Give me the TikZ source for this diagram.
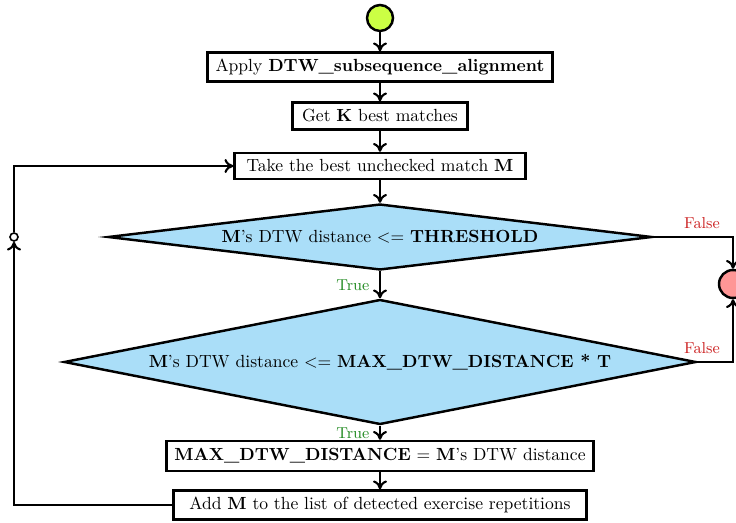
\documentclass[tikz,border=0pt]{standalone}
\usetikzlibrary{shapes.geometric,arrows.meta}
\definecolor{startc}{RGB}{204,255,68}
\definecolor{endc}{RGB}{255,150,150}
\definecolor{decc}{RGB}{170,222,248}
\definecolor{falsec}{RGB}{204,34,34}
\definecolor{truec}{RGB}{34,139,34}
\begin{document}
\begin{tikzpicture}[x=0.02cm,y=-0.02cm,
  box/.style={draw,line width=1.4pt,fill=white,inner sep=0pt},
  dec/.style={draw,line width=1.4pt,fill=decc,shape=diamond,inner sep=0pt},
  arr/.style={line width=1.4pt,-{To[length=5pt,width=8pt,line width=1.2pt]}},
  flab/.style={text=falsec,font=\small},
  tlab/.style={text=truec,font=\small}]
\clip (0,0) rectangle (736,523);
\node[circle,draw,line width=1.4pt,fill=startc,minimum size=26*0.02cm,inner sep=0pt] (start) at (380,18) {};
\node[box,minimum width=345*0.02cm,minimum height=29*0.02cm] (b1) at (380,67) {Apply \textbf{DTW\_subsequence\_alignment}};
\node[box,minimum width=175*0.02cm,minimum height=27*0.02cm] (b2) at (380,116) {Get \textbf{K} best matches};
\node[box,minimum width=291*0.02cm,minimum height=26*0.02cm] (b3) at (380,166) {Take the best unchecked match \textbf{M}};
\node[dec,aspect=8.24,minimum width=544*0.02cm,minimum height=66*0.02cm] (d1) at (380,237) {\textbf{M}'s DTW distance <= \textbf{THRESHOLD}};
\node[dec,aspect=5.06,minimum width=632*0.02cm,minimum height=125*0.02cm] (d2) at (380,362) {\textbf{M}'s DTW distance <= \textbf{MAX\_DTW\_DISTANCE * T}};
\node[box,minimum width=427*0.02cm,minimum height=30*0.02cm] (b4) at (380,456) {\textbf{MAX\_DTW\_DISTANCE} = \textbf{M}'s DTW distance};
\node[box,minimum width=413*0.02cm,minimum height=29*0.02cm] (b5) at (380,505) {Add \textbf{M} to the list of detected exercise repetitions};
\node[circle,draw,line width=1.4pt,fill=endc,minimum size=28*0.02cm,inner sep=0pt] (stop) at (733,284) {};
\node[circle,draw,line width=0.9pt,fill=white,minimum size=8*0.02cm,inner sep=0pt] (loop) at (14,237) {};
\coordinate (c1) at (733,237);
\coordinate (c2) at (733,362);
\draw[arr] (start) -- (b1);
\draw[arr] (b1) -- (b2);
\draw[arr] (b2) -- (b3);
\draw[arr] (b3) -- (d1);
\draw[arr] (d1) -- node[tlab,anchor=east,pos=0.5,xshift=-2pt]{True} (d2);
\draw[arr] (d2) -- node[tlab,anchor=east,pos=0.55,xshift=-2pt]{True} (b4);
\draw[arr] (b4) -- (b5);
\draw[arr] (d1.east) -- (c1) -- (stop.north);
\draw[arr] (d2.east) -- (c2) -- (stop.south);
\node[flab] (f1) at (702,223) {False};
\node[flab] (f2) at (702,348) {False};
\draw[arr] (b5.west) -| (loop.south);
\draw[arr] (loop.north) |- (b3.west);
\end{tikzpicture}
\end{document}
